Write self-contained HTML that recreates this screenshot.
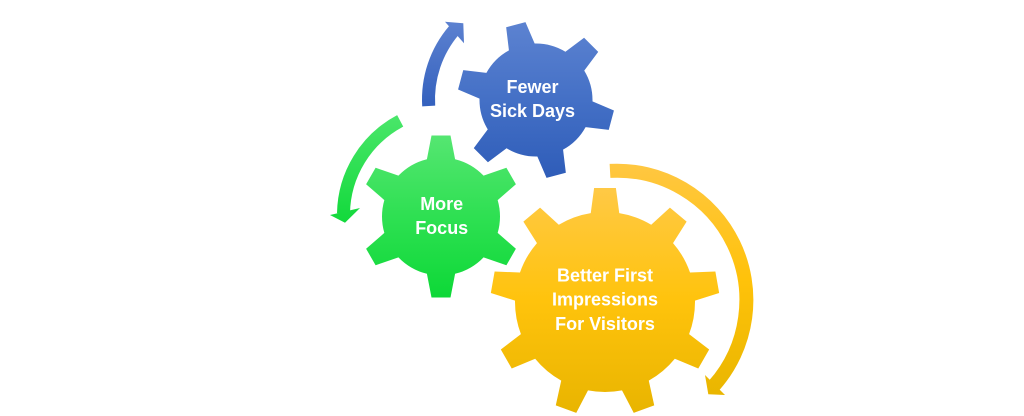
<!DOCTYPE html>
<html>
<head>
<meta charset="utf-8">
<style>
  html,body{margin:0;padding:0;background:#ffffff;}
  body{width:1024px;height:416px;overflow:hidden;}
  svg{display:block;}
  text{font-family:"Liberation Sans",Arial,sans-serif;font-weight:bold;font-size:18px;fill:#ffffff;}
</style>
</head>
<body>
<svg width="1024" height="416" viewBox="0 0 1024 416" xmlns="http://www.w3.org/2000/svg">
  <defs>
    <linearGradient id="gB" x1="0" y1="0" x2="0" y2="1">
      <stop offset="0" stop-color="#5d83d1"/>
      <stop offset="0.5" stop-color="#4470c6"/>
      <stop offset="1" stop-color="#2e5cb8"/>
    </linearGradient>
    <linearGradient id="gG" x1="0" y1="0" x2="0" y2="1">
      <stop offset="0" stop-color="#56e672"/>
      <stop offset="0.5" stop-color="#2ee052"/>
      <stop offset="1" stop-color="#0cd836"/>
    </linearGradient>
    <linearGradient id="gY" x1="0" y1="0" x2="0" y2="1">
      <stop offset="0" stop-color="#ffc946"/>
      <stop offset="0.5" stop-color="#ffc30c"/>
      <stop offset="1" stop-color="#e8b400"/>
    </linearGradient>
    <linearGradient id="aB" gradientUnits="userSpaceOnUse" x1="0" y1="22" x2="0" y2="108">
      <stop offset="0" stop-color="#5c81d0"/>
      <stop offset="1" stop-color="#3360bd"/>
    </linearGradient>
    <linearGradient id="aG" gradientUnits="userSpaceOnUse" x1="0" y1="115" x2="0" y2="223">
      <stop offset="0" stop-color="#4ae66a"/>
      <stop offset="1" stop-color="#12d93b"/>
    </linearGradient>
    <linearGradient id="aY" gradientUnits="userSpaceOnUse" x1="0" y1="163" x2="0" y2="396">
      <stop offset="0" stop-color="#ffc742"/>
      <stop offset="0.5" stop-color="#ffc20a"/>
      <stop offset="1" stop-color="#e9b600"/>
    </linearGradient>

    <clipPath id="cB">
      <circle cx="536" cy="100" r="56.5"/>
      <polygon points="526,22 546,22 550.3,52 521.7,52" transform="rotate(-15 536 100)"/>
      <polygon points="526,22 546,22 550.3,52 521.7,52" transform="rotate(45 536 100)"/>
      <polygon points="526,22 546,22 550.3,52 521.7,52" transform="rotate(105 536 100)"/>
      <polygon points="526,22 546,22 550.3,52 521.7,52" transform="rotate(165 536 100)"/>
      <polygon points="526,22 546,22 550.3,52 521.7,52" transform="rotate(225 536 100)"/>
      <polygon points="526,22 546,22 550.3,52 521.7,52" transform="rotate(285 536 100)"/>
    </clipPath>
    <clipPath id="cG">
      <circle cx="441" cy="216.5" r="59"/>
      <polygon points="431.5,135.5 450.5,135.5 456.9,168.5 425.1,168.5" transform="rotate(0 441 216.5)"/>
      <polygon points="431.5,135.5 450.5,135.5 456.9,168.5 425.1,168.5" transform="rotate(60 441 216.5)"/>
      <polygon points="431.5,135.5 450.5,135.5 456.9,168.5 425.1,168.5" transform="rotate(120 441 216.5)"/>
      <polygon points="431.5,135.5 450.5,135.5 456.9,168.5 425.1,168.5" transform="rotate(180 441 216.5)"/>
      <polygon points="431.5,135.5 450.5,135.5 456.9,168.5 425.1,168.5" transform="rotate(240 441 216.5)"/>
      <polygon points="431.5,135.5 450.5,135.5 456.9,168.5 425.1,168.5" transform="rotate(300 441 216.5)"/>
    </clipPath>
    <clipPath id="cY">
      <circle cx="605" cy="302" r="90"/>
      <polygon points="594.1,188 615.9,188 620.7,224 589.3,224" transform="rotate(0 605 302)"/>
      <polygon points="594.1,188 615.9,188 620.7,224 589.3,224" transform="rotate(40 605 302)"/>
      <polygon points="594.1,188 615.9,188 620.7,224 589.3,224" transform="rotate(80 605 302)"/>
      <polygon points="594.1,188 615.9,188 620.7,224 589.3,224" transform="rotate(120 605 302)"/>
      <polygon points="594.1,188 615.9,188 620.7,224 589.3,224" transform="rotate(160 605 302)"/>
      <polygon points="594.1,188 615.9,188 620.7,224 589.3,224" transform="rotate(200 605 302)"/>
      <polygon points="594.1,188 615.9,188 620.7,224 589.3,224" transform="rotate(240 605 302)"/>
      <polygon points="594.1,188 615.9,188 620.7,224 589.3,224" transform="rotate(280 605 302)"/>
      <polygon points="594.1,188 615.9,188 620.7,224 589.3,224" transform="rotate(320 605 302)"/>
    </clipPath>
  </defs>

  <!-- Arrows -->
  <path d="M 428.7 106 A 106.5 106.5 0 0 1 454.0 30.3" fill="none" stroke="url(#aB)" stroke-width="13"/>
  <polygon points="445,21.7 464,43.3 463.3,23.3" fill="url(#aB)"/>

  <path d="M 400.2 120.9 A 106.5 106.5 0 0 0 343.5 213.3" fill="none" stroke="url(#aG)" stroke-width="13"/>
  <polygon points="330,215 360,208 345,222.7" fill="url(#aG)"/>

  <path d="M 610 170.9 A 129.3 129.3 0 0 1 713.9 385.7" fill="none" stroke="url(#aY)" stroke-width="14"/>
  <polygon points="705,375 725,395 708.3,394.3" fill="url(#aY)"/>

  <!-- Gears -->
  <rect x="455" y="20" width="162" height="160" fill="url(#gB)" clip-path="url(#cB)"/>
  <rect x="355" y="134" width="172" height="166" fill="url(#gG)" clip-path="url(#cG)"/>
  <rect x="488" y="187" width="235" height="229" fill="url(#gY)" clip-path="url(#cY)"/>

  <!-- Labels -->
  <text x="532.5" y="93" text-anchor="middle">Fewer</text>
  <text x="532.5" y="117" text-anchor="middle">Sick Days</text>

  <text x="441.7" y="210" text-anchor="middle">More</text>
  <text x="441.7" y="234" text-anchor="middle">Focus</text>

  <text x="605" y="281.7" text-anchor="middle">Better First</text>
  <text x="605" y="305.7" text-anchor="middle">Impressions</text>
  <text x="605" y="330" text-anchor="middle">For Visitors</text>
</svg>
</body>
</html>
